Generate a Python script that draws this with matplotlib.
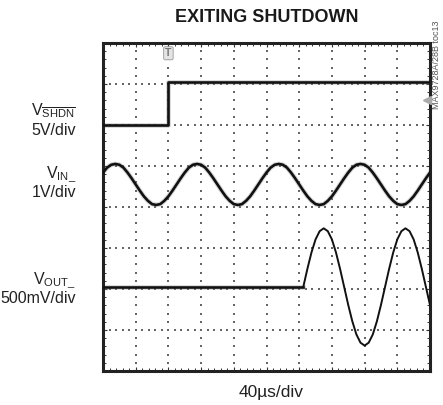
import numpy as np
import matplotlib
matplotlib.use("Agg")
import matplotlib.pyplot as plt
from matplotlib.ticker import MultipleLocator

plt.rcParams["font.family"] = ["Liberation Sans", "DejaVu Sans"]
plt.rcParams["mathtext.fontset"] = "custom"
plt.rcParams["mathtext.rm"] = "Liberation Sans"
plt.rcParams["mathtext.it"] = "Liberation Sans"
plt.rcParams["mathtext.bf"] = "Liberation Sans:bold"

# scope screen: 40us/div x 10 div, 8 div tall; traces read in divisions from bottom
t_us = np.arange(0, 401, 5)

shdn_t = [0, 80, 80, 400]
shdn_div = [6.0, 6.0, 7.05, 7.05]

vin_div = [
    4.84, 4.96, 5.03,
    5.05, 5.03, 4.96, 4.84, 4.70, 4.55, 4.40, 4.26, 4.15, 4.07,
    4.05, 4.07, 4.15, 4.26, 4.40, 4.55, 4.70, 4.84, 4.96, 5.03,
    5.05, 5.03, 4.96, 4.84, 4.70, 4.55, 4.40, 4.26, 4.15, 4.07,
    4.05, 4.07, 4.15, 4.26, 4.40, 4.55, 4.70, 4.84, 4.96, 5.03,
    5.05, 5.03, 4.96, 4.84, 4.70, 4.55, 4.40, 4.26, 4.15, 4.07,
    4.05, 4.07, 4.15, 4.26, 4.40, 4.55, 4.70, 4.84, 4.96, 5.03,
    5.05, 5.03, 4.96, 4.84, 4.70, 4.55, 4.40, 4.26, 4.15, 4.07,
    4.05, 4.07, 4.15, 4.26, 4.40, 4.55, 4.70, 4.84,
]

# output stays at its rest level until the amplifier wakes up at ~245us
vout_t = [0] + list(range(245, 401, 5))
vout_div = [
    2.05,
    2.05, 2.49, 2.89, 3.21, 3.41, 3.48, 3.41, 3.21, 2.89, 2.49,
    2.05, 1.61, 1.21, 0.89, 0.69, 0.62, 0.69, 0.89, 1.21, 1.61,
    2.05, 2.49, 2.89, 3.21, 3.41, 3.48, 3.41, 3.21, 2.89, 2.49,
    2.05, 1.61,
]

labels = [
    (r"V$_{\overline{\mathrm{SHDN}}}$", "5V/div", 0.716, 0.667),
    (r"V$_{\mathrm{IN\_}}$", "1V/div", 0.563, 0.514),
    (r"V$_{\mathrm{OUT\_}}$", "500mV/div", 0.301, 0.252),
]

fig = plt.figure(figsize=(4.43, 4.05), dpi=100)
ax = fig.add_axes([103 / 443, 34 / 405, 327 / 443, 328 / 405])
ax.set_xlim(0, 400)
ax.set_ylim(0, 8)

# dotted graticule, 5 dots per division
for gy in range(1, 8):
    xs = np.arange(0, 401, 8)
    ax.scatter(xs, np.full(len(xs), gy), s=0.9, marker="s", color="#666",
               linewidths=0, zorder=1)
for gx in range(40, 400, 40):
    ys = np.arange(0, 8.01, 0.2)
    ax.scatter(np.full(len(ys), gx), ys, s=0.9, marker="s", color="#666",
               linewidths=0, zorder=1)

# halo to mimic trace noise, then the traces
ax.plot(shdn_t, shdn_div, color="#888", lw=3.4, alpha=0.35, zorder=2)
ax.plot(shdn_t, shdn_div, color="#111", lw=1.9, zorder=3)
ax.plot(t_us, vin_div, color="#888", lw=3.4, alpha=0.35, zorder=2)
ax.plot(t_us, vin_div, color="#111", lw=1.9, zorder=3)
ax.plot(vout_t[:2], vout_div[:2], color="#888", lw=3.4, alpha=0.35, zorder=2)
ax.plot(vout_t[:2], vout_div[:2], color="#111", lw=1.9, zorder=3)
ax.plot(vout_t[1:], vout_div[1:], color="#111", lw=1.4, zorder=3)

# trigger and ground markers
ax.text(80, 7.75, "T", ha="center", va="center", fontsize=7.5, color="#777",
        fontweight="bold",
        bbox=dict(boxstyle="round,pad=0.15", fc="#e4e4e4", ec="#999", lw=0.6))
ax.plot([396], [6.6], marker="<", ms=5.5, color="#aaa", clip_on=False, zorder=4)

ax.xaxis.set_major_locator(MultipleLocator(40))
ax.yaxis.set_major_locator(MultipleLocator(1))
ax.xaxis.set_minor_locator(MultipleLocator(8))
ax.yaxis.set_minor_locator(MultipleLocator(0.2))
ax.tick_params(which="both", direction="in", top=True, right=True,
               labelbottom=False, labelleft=False, color="#333")
ax.tick_params(which="major", length=3, width=0.8)
ax.tick_params(which="minor", length=2.2, width=0.7)
for sp in ax.spines.values():
    sp.set_linewidth(2.2)
    sp.set_color("#222")

for name, scale, y1, y2 in labels:
    fig.text(76 / 443, y1, name, ha="right", va="baseline", fontsize=11.5,
             color="#222")
    fig.text(76 / 443, y2, scale, ha="right", va="baseline", fontsize=11.5,
             color="#222")

fig.text(0.6016, 0.946, "EXITING SHUTDOWN", ha="center", va="baseline",
         fontsize=13, fontweight="heavy", color="#1a1a1a")
fig.text(0.612, 0.02, "40\u00b5s/div", ha="center", va="baseline",
         fontsize=12.5, color="#222")
fig.text(0.986, 0.84, "MAX9728A/28B toc13", ha="center", va="center",
         rotation=90, fontsize=6.5, color="#555")

fig.savefig("out.png", dpi=100)
